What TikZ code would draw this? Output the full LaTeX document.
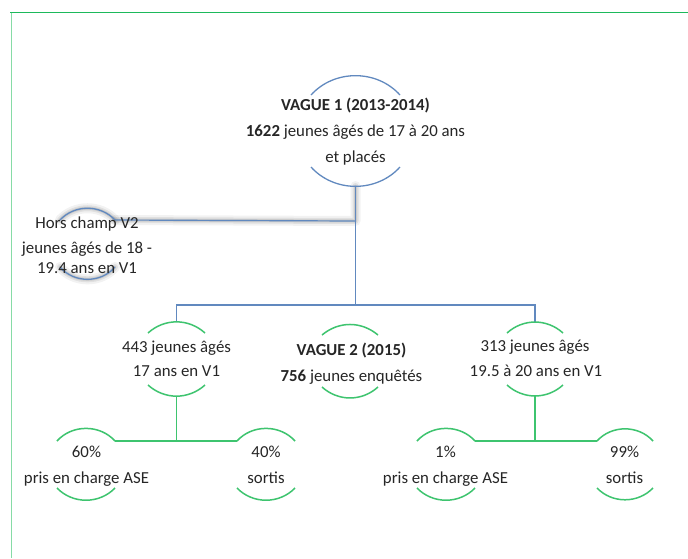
\documentclass[tikz,border=0pt]{standalone}
\usepackage{fontspec}
\setmainfont{Carlito}
\definecolor{frametop}{HTML}{1DB95B}
\definecolor{frameleft}{HTML}{86DBA6}
\definecolor{lblue}{HTML}{6189BF}
\definecolor{lgreen}{HTML}{3EC46F}
\definecolor{txt}{HTML}{262626}
\begin{document}
\begin{tikzpicture}[x=1pt,y=-1pt,
  lbl/.style={anchor=base, font=\fontsize{16.8}{20}\selectfont, text=txt, inner sep=0pt},
  barc/.style={draw=lblue, line width=1.3pt},
  garc/.style={draw=lgreen, line width=1.5pt},
  bline/.style={draw=lblue, line width=1.2pt},
  gline/.style={draw=lgreen, line width=1.6pt},
  glowa/.style={draw=black, opacity=0.05, line width=10pt, line cap=round, line join=round},
  glowb/.style={draw=black, opacity=0.07, line width=6pt, line cap=round, line join=round},
  glowc/.style={draw=black, opacity=0.09, line width=3pt, line cap=round, line join=round}
]
\useasboundingbox (0,0) rectangle (688,558);
\fill[white] (0,0) rectangle (688,558);
% frame
\draw[frametop, line width=1.5pt] (10,12.5) -- (688,12.5);
\draw[frameleft, line width=1.5pt] (11.5,12.5) -- (11.5,558);

% ---------- coordinates ----------
% Vague 1
\coordinate (v1tl) at (311,95);  \coordinate (v1tr) at (400,95);
\coordinate (v1bl) at (311,167); \coordinate (v1br) at (400,167);
\coordinate (v1b) at (355.5,186);
% hors champ
\coordinate (hctl) at (60,220);  \coordinate (hctr) at (115,220);
\coordinate (hcbl) at (60,267);  \coordinate (hcbr) at (115,267);
\coordinate (hcj) at (355.5,221);
% level 2
\coordinate (lt) at (176.5,322); \coordinate (ltl) at (148,333); \coordinate (ltr) at (205,333);
\coordinate (lbl) at (148,385);  \coordinate (lbr) at (205,385); \coordinate (lb) at (176.5,396);
\coordinate (mtl) at (322,335);  \coordinate (mtr) at (378,335);
\coordinate (mbl) at (322,387);  \coordinate (mbr) at (378,387);
\coordinate (rt) at (535,322);   \coordinate (rtl) at (507,333); \coordinate (rtr) at (563,333);
\coordinate (rbl) at (507,385);  \coordinate (rbr) at (563,385); \coordinate (rb) at (535,396);
\coordinate (bus) at (355.5,305);
% level 3
\coordinate (a1l) at (57,441);  \coordinate (a1r) at (115,441);
\coordinate (a1bl) at (57,488); \coordinate (a1br) at (115,488);
\coordinate (a2l) at (237,441); \coordinate (a2r) at (295,441);
\coordinate (a2bl) at (237,488); \coordinate (a2br) at (295,488);
\coordinate (a3l) at (417,441); \coordinate (a3r) at (475,441);
\coordinate (a3bl) at (417,488); \coordinate (a3br) at (475,488);
\coordinate (a4l) at (597,441); \coordinate (a4r) at (653,441);
\coordinate (a4bl) at (597,488); \coordinate (a4br) at (653,488);
\coordinate (lj) at (176.5,441); \coordinate (rj) at (535,441);

% ---------- glow (shadow) ----------
\foreach \s in {glowa,glowb,glowc}{
  \draw[\s] (v1b) -- (hcj) -- (hctr);
  \draw[\s] (hctl) to[bend left=47] (hctr);
  \draw[\s] (hcbl) to[bend right=50] (hcbr);
}

% ---------- blue connectors ----------
\draw[bline] (v1b) -- (bus);
\draw[bline] (hcj) -- (hctr);
\draw[bline] (lt) |- (bus) -| (rt);

% ---------- blue arcs ----------
\draw[barc] (v1tl) to[bend left=48] (v1tr);
\draw[barc] (v1bl) to[bend right=48] (v1br);
\draw[barc] (hctl) to[bend left=47] (hctr);
\draw[barc] (hcbl) to[bend right=50] (hcbr);

% ---------- green arcs ----------
\draw[garc] (ltl) to[bend left=42] (ltr);
\draw[garc] (lbl) to[bend right=42] (lbr);
\draw[garc] (mtl) to[bend left=40] (mtr);
\draw[garc] (mbl) to[bend right=42] (mbr);
\draw[garc] (rtl) to[bend left=42] (rtr);
\draw[garc] (rbl) to[bend right=42] (rbr);
\foreach \n in {a1,a2,a3,a4}{
  \draw[garc] (\n l) to[bend left=48] (\n r);
  \draw[garc] (\n bl) to[bend right=46] (\n br);
}

% ---------- green connectors ----------
\draw[gline] (lb) -- (lj);
\draw[gline] (a1r) -- (a2l);
\draw[gline] (rb) -- (rj);
\draw[gline] (a3r) -- (a4l);

% ---------- texts ----------
\node[lbl] (v1a) at (355.5,110) {\textbf{VAGUE 1 (2013-2014)}};
\node[lbl] (v1n) at (355.5,136) {\textbf{1622} jeunes âgés de 17 à 20 ans};
\node[lbl] (v1c) at (355.5,162) {et placés};

\node[lbl] (hca) at (87,228) {Hors champ V2};
\node[lbl] (hcb) at (87,253) {jeunes âgés de 18 -};
\node[lbl] (hcc) at (87,273) {19.4 ans en V1};

\node[lbl] (l2a) at (176.5,352) {443 jeunes âgés};
\node[lbl] (l2b) at (176.5,376) {17 ans en V1};
\node[lbl] (m2a) at (351.5,355) {\textbf{VAGUE 2 (2015)}};
\node[lbl] (m2b) at (351.5,381) {\textbf{756} jeunes enquêtés};
\node[lbl] (r2a) at (535,351) {313 jeunes âgés};
\node[lbl] (r2b) at (536,376) {19.5 à 20 ans en V1};

\node[lbl] (p1a) at (86.5,457) {60\%};
\node[lbl] (p1b) at (86.5,483) {pris en charge ASE};
\node[lbl] (p2a) at (266,457) {40\%};
\node[lbl] (p2b) at (266,483) {sortis};
\node[lbl] (p3a) at (445.5,457) {1\%};
\node[lbl] (p3b) at (445.5,483) {pris en charge ASE};
\node[lbl] (p4a) at (624.5,457) {99\%};
\node[lbl] (p4b) at (624.5,483) {sortis};
\end{tikzpicture}
\end{document}
